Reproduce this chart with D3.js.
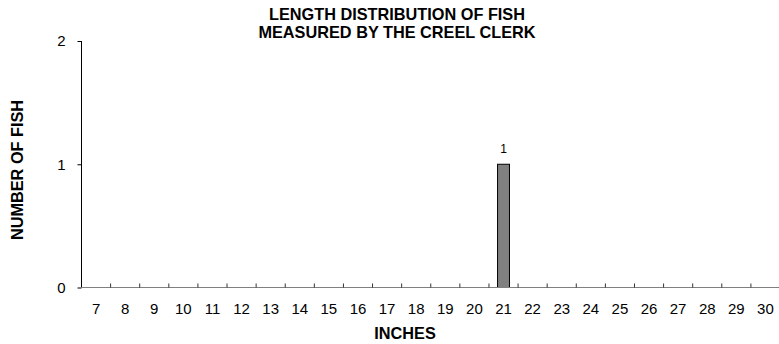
<!DOCTYPE html>
<html>
<head>
<meta charset="utf-8">
<script src="https://cdn.jsdelivr.net/npm/d3@7"></script>
<style>
  body { margin: 0; background: #fff; }
  text { font-family: Arial, "Liberation Sans", sans-serif; }
</style>
</head>
<body>
<svg width="779" height="344"></svg>
<script>
// lengths in inches and fish counts
const inches = ["7","8","9","10","11","12","13","14","15","16","17","18","19","20","21","22","23","24","25","26","27","28","29","30"]
const counts = [0,0,0,0,0,0,0,0,0,0,0,0,0,0,1,0,0,0,0,0,0,0,0,0]
const yTicks = [0, 1, 2]

const svg = d3.select("svg")
const plotLeft = 81.5, plotRight = 780, plotTop = 41, plotBottom = 287.5

const x = d3.scaleBand().domain(inches).range([plotLeft, plotRight]).paddingInner(0.59).paddingOuter(0.295)
const xb = d3.scaleBand().domain(inches).range([plotLeft, plotRight])
const y = d3.scaleLinear().domain([0, 2]).range([plotBottom, plotTop])

// title
svg.append("text").attr("x", 397).attr("y", 20).attr("text-anchor", "middle")
  .attr("font-size", "16.3px").attr("font-weight", "bold").text("LENGTH DISTRIBUTION OF FISH")
svg.append("text").attr("x", 397).attr("y", 38.3).attr("text-anchor", "middle")
  .attr("font-size", "16.3px").attr("font-weight", "bold").text("MEASURED BY THE CREEL CLERK")

// y axis
const yAxis = svg.append("g").attr("transform", `translate(${plotLeft},0)`)
  .call(d3.axisLeft(y).tickValues(yTicks).tickSize(4).tickPadding(12).tickFormat(d3.format("d")))
yAxis.select(".domain").attr("stroke", "#000").attr("d", `M0,${plotTop}V${plotBottom}`)
yAxis.selectAll(".tick line").attr("stroke", "#000")
yAxis.selectAll("text").attr("font-size", "15px").attr("font-family", "Arial, 'Liberation Sans', sans-serif")

// bars
const barData = counts.map((c, i) => ({ k: inches[i], v: c })).filter(d => d.v > 0)
svg.append("g").selectAll("rect")
  .data(barData)
  .enter().append("rect")
  .attr("x", d => x(d.k)).attr("width", x.bandwidth())
  .attr("y", d => y(d.v)).attr("height", d => y(0) - y(d.v))
  .attr("fill", "#808080").attr("stroke", "#000").attr("stroke-width", 1)

svg.append("g").selectAll("text")
  .data(barData)
  .enter().append("text")
  .attr("x", d => x(d.k) + x.bandwidth() / 2).attr("y", d => y(d.v) - 11)
  .attr("text-anchor", "middle").attr("font-size", "12px").text(d => d.v)

// x axis
const xg = svg.append("g").attr("transform", `translate(0,${plotBottom})`)
xg.append("line").attr("x1", plotLeft).attr("x2", plotRight).attr("stroke", "#808080")
xg.selectAll(".tk").data(inches.slice(1)).enter().append("line")
  .attr("x1", d => xb(d)).attr("x2", d => xb(d)).attr("y1", 0).attr("y2", -4)
  .attr("stroke", "#333")
xg.selectAll(".lb").data(inches).enter().append("text")
  .attr("x", d => xb(d) + xb.bandwidth() / 2).attr("y", 26.5)
  .attr("text-anchor", "middle").attr("font-size", "15px").text(d => d)

// axis titles
svg.append("text").attr("x", 405).attr("y", 339).attr("text-anchor", "middle")
  .attr("font-size", "16.3px").attr("font-weight", "bold").text("INCHES")
svg.append("text").attr("transform", "translate(23,170) rotate(-90)").attr("text-anchor", "middle")
  .attr("font-size", "16.3px").attr("font-weight", "bold").text("NUMBER OF FISH")
</script>
</body>
</html>
